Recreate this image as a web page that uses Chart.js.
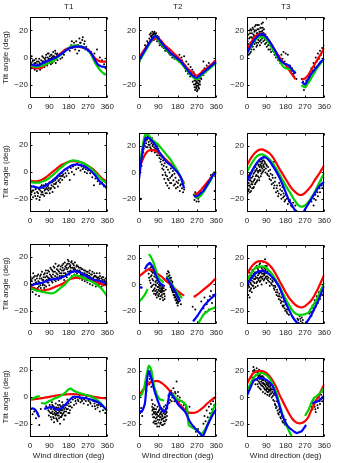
<!DOCTYPE html>
<html>
<head>
<meta charset="utf-8">
<script src="https://cdn.jsdelivr.net/npm/chart.js@4/dist/chart.umd.min.js"></script>
<style>
  body { margin: 0; background: #fff; }
  #wrap { position: relative; width: 337px; height: 463px; overflow: hidden; }
  #wrap canvas { position: absolute; }
</style>
</head>
<body>
<div id="wrap"></div>
<script>
// ---- axes ----
const colTitles = ['T1', 'T2', 'T3'];
const xTicks = [0, 90, 180, 270, 360];
const yTicks = [-20, 0, 20];
const xs = [0,15,30,45,60,75,90,105,120,135,150,165,180,195,210,225,240,255,270,285,300,315,330,345,360];

// ---- observed tilt (flat x,y pairs) ----
const obs11 = [5,-4, 8,1, 10,-6, 12,-3, 15,-8, 18,-5, 20,-2, 22,-9, 25,-6, 27,-4, 30,-7, 32,-10, 35,-5, 38,-8, 40,-3, 42,-6, 45,-4, 47,-9, 50,-7, 52,-2, 55,-5, 58,-3, 60,-6, 62,0, 65,-4, 68,-1, 70,-5, 72,-2, 75,2, 77,-3, 80,-6, 82,0, 85,-2, 87,3, 90,-4, 92,1, 95,-1, 97,-5, 100,2, 102,0, 105,-2, 108,4, 110,-3, 112,1, 115,-1, 118,3, 120,-4, 122,0, 125,2, 128,-2, 135,1, 142,-1, 150,0, 158,2, 185,5, 192,9, 198,7, 205,11, 210,6, 215,12, 220,3, 225,9, 230,14, 233,11, 238,8, 243,13, 248,7, 252,10, 258,6, 262,8, 270,5, 285,4, 300,3, 312,6, 325,0, 335,-2, 345,-5, 352,-8,
  3,-6, 7,-8, 13,-2, 17,-7, 23,-4, 28,-1, 33,-3, 37,-6, 43,-1, 48,-5, 53,-8, 57,1, 63,-3, 67,-7, 73,0, 78,-4, 83,3, 88,-1, 93,-3, 98,2, 103,-4, 107,1, 113,-2, 117,5, 123,-1, 127,3, 195,12, 218,9, 228,5, 236,11, 246,15, 255,12];
const obs12 = [3,-3, 8,0, 15,2, 22,5, 28,9, 32,8, 38,12, 42,11, 48,14, 50,17, 53,13, 55,18, 58,15, 60,16, 62,19, 64,14, 66,17, 68,18, 70,15, 72,19, 74,16, 76,17, 78,14, 80,18, 82,15, 84,12, 86,16, 90,13, 95,11, 100,12, 105,9, 110,10, 115,7, 125,6, 130,5, 140,3, 150,2, 160,1, 170,1, 180,-1, 188,2, 192,-2, 198,0, 205,-4, 210,1, 215,-6, 220,-3, 225,-8, 230,-5, 235,-10, 240,-7, 245,-12, 248,-9, 252,-14, 255,-11, 258,-17, 260,-13, 262,-20, 264,-15, 266,-22, 268,-18, 270,-25, 272,-16, 274,-21, 276,-19, 278,-14, 280,-23, 282,-17, 284,-20, 286,-12, 290,-16, 295,-10, 300,-13, 300,-3, 305,-8, 310,-11, 315,-6, 320,-9, 325,-4, 330,-7, 340,-5, 350,-3, 358,-4,
  56,16, 63,17, 69,13, 73,18, 79,16, 85,14, 92,15, 96,9, 102,10, 108,8, 118,8, 122,5, 135,4, 145,2, 155,0, 165,-1, 175,0, 185,-3, 200,-2, 218,-10, 228,-12, 238,-14, 250,-18, 256,-20, 259,-22, 261,-24, 263,-17, 265,-19, 267,-23, 269,-21, 271,-19, 273,-24, 275,-17, 277,-22, 279,-20, 281,-15, 283,-18, 287,-15, 292,-13, 297,-11, 303,-9];
const obs13 = [2,5, 5,10, 8,2, 10,14, 12,7, 14,18, 16,11, 18,4, 20,20, 22,15, 24,9, 26,22, 28,13, 30,17, 32,6, 34,19, 36,23, 38,12, 40,16, 42,20, 44,8, 46,14, 48,24, 50,18, 52,11, 54,21, 56,15, 58,19, 60,9, 62,22, 64,13, 66,17, 68,25, 70,14, 72,20, 74,26, 76,12, 78,18, 80,16, 84,10, 88,14, 92,8, 96,12, 100,6, 105,9, 112,4, 120,5, 128,2, 135,0, 140,3, 145,-2, 150,1, 155,-4, 160,2, 165,-1, 170,4, 175,-3, 180,3, 185,-5, 190,2, 195,-8, 200,-6, 205,-10, 210,-8, 215,-12, 220,-14, 225,-11, 230,-16, 255,-16, 258,-21, 262,-18, 265,-24, 268,-20, 272,-22, 276,-17, 280,-19, 285,-14, 290,-12, 295,-15, 300,-8, 305,-10, 310,-4, 315,-7, 320,0, 325,-3, 330,3, 335,-1, 340,5, 345,2, 350,7, 355,4, 358,9,
  3,12, 7,17, 9,8, 11,20, 13,3, 15,15, 17,21, 19,10, 21,6, 23,18, 25,14, 27,8, 29,21, 31,12, 33,16, 35,10, 37,20, 39,15, 41,24, 43,11, 45,18, 47,9, 49,21, 51,16, 53,13, 55,24, 57,17, 59,12, 61,19, 63,16, 65,22, 67,11, 69,19, 71,16, 73,22, 75,18, 77,15, 79,21, 82,13, 86,17, 90,11, 94,15, 98,9, 102,12, 108,6, 115,8, 125,4];
const obs21 = [3,-12, 6,-17, 10,-14, 14,-19, 18,-11, 22,-16, 26,-13, 30,-20, 33,-15, 36,-18, 40,-12, 44,-21, 48,-14, 52,-17, 55,-10, 58,-15, 62,-12, 66,-18, 70,-13, 74,-9, 78,-16, 82,-11, 86,-14, 90,-8, 95,-13, 100,-10, 105,-15, 110,-7, 115,-12, 120,-9, 125,-5, 130,-11, 135,-6, 140,-8, 145,-3, 150,-6, 155,-2, 160,-4, 165,-1, 170,-3, 175,1, 180,-1, 185,-6, 190,3, 195,0, 200,4, 205,-2, 210,5, 215,2, 220,6, 225,3, 230,5, 235,1, 240,4, 245,2, 250,3, 255,0, 260,2, 265,-1, 270,1, 280,-1, 290,-4, 298,-10, 305,-5, 315,-7, 325,-9, 335,-8, 345,-11, 355,-12,
  8,-15, 16,-14, 24,-18, 28,-12, 38,-16, 42,-13, 46,-19, 50,-11, 54,-15, 60,-17, 64,-10, 68,-14, 72,-16, 76,-12, 80,-13, 84,-10, 88,-12, 92,-16, 98,-12, 102,-8, 108,-11, 112,-9, 118,-6, 122,-8, 128,-4, 132,-7, 138,-3, 142,-5, 148,-1, 152,-3];
const obs22 = [9,-20, 12,5, 18,12, 22,18, 25,24, 28,20, 30,27, 33,22, 36,29, 38,25, 40,19, 42,27, 45,23, 48,26, 50,21, 53,24, 56,18, 58,22, 60,26, 63,20, 66,17, 68,23, 70,19, 74,15, 78,21, 80,18, 84,13, 88,20, 92,16, 95,11, 98,14, 100,8, 104,12, 108,3, 110,-2, 112,9, 115,5, 118,-5, 120,7, 122,0, 125,-8, 128,4, 130,-3, 132,-10, 135,2, 138,-6, 140,-12, 142,0, 145,-4, 148,3, 150,-8, 155,-2, 158,1, 160,-6, 165,-1, 168,-9, 170,-4, 175,-7, 180,-11, 185,-6, 190,-14, 195,-9, 200,-12, 205,-15, 210,-13, 255,-17, 258,-21, 262,-15, 265,-19, 268,-22, 272,-16, 276,-20, 280,-18, 285,-14, 290,-17, 295,-12, 330,-5, 335,-2, 340,-4, 345,-1, 350,0, 352,-14, 355,-3,
  20,15, 26,26, 32,24, 34,19, 39,28, 44,21, 47,28, 52,19, 55,25, 59,16, 62,24, 65,21, 69,17, 72,22, 76,18, 82,16, 86,15, 90,18, 94,13, 102,10, 106,6, 114,2, 124,-2, 134,-5, 144,-8, 152,-3, 162,-10, 172,-12, 182,-8, 192,-10, 202,-9, 260,-18, 270,-19, 278,-22, 283,-16];
const obs23 = [2,-12, 4,-5, 6,-14, 8,-8, 10,-2, 12,-10, 14,-15, 16,-6, 18,0, 20,-9, 22,-4, 24,-12, 26,2, 28,-7, 30,-1, 32,-11, 34,4, 36,-5, 38,1, 40,-8, 42,6, 44,-2, 46,3, 48,-6, 50,8, 52,0, 54,5, 56,-4, 58,9, 60,2, 62,6, 64,-3, 66,10, 68,4, 70,8, 72,0, 74,11, 76,5, 78,9, 80,2, 84,7, 88,3, 92,5, 96,-2, 100,1, 105,-5, 110,-1, 115,-9, 120,-4, 125,-12, 126,8, 130,-7, 135,-15, 140,-10, 145,-18, 150,-8, 155,-13, 160,-20, 165,-11, 170,-16, 175,-22, 180,-17, 190,-24, 200,-21, 210,-26, 215,-23, 220,-28, 225,-25, 230,-29, 300,-22, 305,-18, 310,-25, 315,-15, 320,-21, 325,-12, 330,-18, 335,-9, 340,-15, 345,-6, 350,-12, 355,-8, 358,-4,
  1,-8, 3,-16, 5,-10, 7,-3, 9,-13, 11,-6, 13,-1, 15,-11, 17,-4, 19,-14, 21,-7, 23,1, 25,-9, 27,-3, 29,-12, 31,3, 33,-6, 35,0, 37,-9, 39,4, 41,-3, 43,2, 45,-7, 47,7, 49,1, 51,-3, 53,6, 55,1, 57,-6, 59,4, 61,8, 63,1, 65,5, 67,-1, 69,7, 71,3, 73,9, 75,1, 77,6, 79,4, 82,8, 86,0, 90,6, 94,-1, 98,4, 103,-3, 108,2, 112,-6, 118,-2, 122,-8, 128,-10, 132,-4, 138,-12, 143,-14, 148,-16, 153,-10, 158,-17, 163,-14, 168,-19, 173,-18, 178,-21, 185,-20, 195,-22, 205,-25, 312,-20, 318,-17, 328,-15, 338,-12, 348,-10];
const obs31 = [3,5, 6,-2, 9,2, 12,-6, 15,8, 18,0, 21,-4, 24,3, 27,-8, 30,1, 33,6, 36,-3, 39,2, 42,-9, 45,4, 48,-1, 51,7, 54,-5, 57,3, 60,0, 63,5, 66,-3, 69,8, 72,2, 75,-2, 78,6, 81,1, 84,10, 87,4, 90,-1, 93,7, 96,3, 99,11, 102,5, 105,1, 108,9, 111,4, 114,12, 117,6, 120,2, 123,8, 126,5, 129,13, 132,3, 135,9, 138,6, 141,11, 144,4, 147,8, 150,14, 153,6, 156,10, 159,3, 162,16, 165,8, 168,12, 171,5, 174,15, 177,9, 180,17, 183,7, 186,13, 189,10, 192,16, 195,6, 198,12, 201,9, 204,14, 207,7, 210,11, 213,5, 216,13, 219,8, 222,10, 225,6, 228,12, 231,4, 234,9, 237,7, 240,11, 243,3, 246,8, 249,5, 252,10, 255,2, 258,7, 261,4, 264,9, 267,1, 270,6, 273,3, 276,8, 279,0, 282,5, 285,2, 288,7, 291,-1, 294,4, 297,1, 300,6, 303,3, 306,-2, 309,5, 312,1, 315,4, 318,-1, 321,3, 324,8, 327,0, 330,2, 333,-2, 336,5, 339,1, 342,-1, 345,3, 350,0, 355,2,
  2,0, 5,3, 8,-4, 11,4, 14,-1, 17,5, 20,-3, 23,6, 26,1, 29,-4, 32,4, 35,0, 38,7, 41,-2, 44,1, 47,6, 50,-3, 53,4, 56,9, 59,-1, 62,3, 65,7, 68,-1, 71,5, 74,10, 77,3, 80,8, 83,5, 86,1, 89,9, 92,4, 95,12, 98,6, 101,2, 104,10, 107,7, 110,13, 113,3, 116,9, 119,15, 122,4, 125,11, 128,7, 131,10, 134,14, 137,5, 140,8, 143,13, 146,6, 149,10, 152,12, 155,15, 158,8, 161,11, 164,13, 167,7, 170,14, 173,11, 176,18, 179,12, 182,15, 185,9, 188,14, 191,12, 194,17, 197,9, 200,15, 203,11, 206,12, 209,16, 212,9, 215,10, 218,14, 221,6, 224,13, 227,9, 230,10, 233,6, 236,12, 239,8, 242,6, 245,11, 248,7, 251,4, 254,8, 257,10, 260,6, 263,3, 266,7, 269,9, 272,4, 275,6, 278,10, 281,3, 284,7, 287,4, 290,9, 293,2, 296,5, 299,8, 302,2, 305,6, 308,3, 311,8, 314,2, 317,5, 320,0, 323,4, 326,6, 329,1, 332,4, 335,0, 338,3, 341,5, 344,-1, 348,2, 352,4, 357,0];
const obs32 = [45,8, 48,12, 50,3, 52,15, 55,6, 57,-2, 58,10, 60,14, 62,4, 64,-5, 65,9, 67,13, 68,0, 70,-7, 71,6, 73,-3, 74,11, 76,2, 78,-8, 79,-1, 80,5, 82,-4, 83,-10, 85,1, 86,-6, 88,3, 90,-2, 92,-9, 93,0, 95,-5, 97,-3, 98,-11, 100,-1, 102,-6, 104,-4, 106,-8, 108,-2, 110,-5, 112,-12, 115,-3, 118,-7, 120,-9, 124,-4, 130,8, 133,4, 135,10, 138,6, 140,1, 142,7, 145,3, 147,-2, 149,5, 151,0, 153,-4, 155,2, 157,-6, 159,-1, 161,-8, 163,-3, 165,-10, 167,-5, 170,-12, 172,-7, 175,-14, 178,-9, 180,-16, 183,-11, 186,-13, 190,-8, 195,-15, 250,-17, 262,-19, 290,-13, 300,-18, 305,-10, 310,-21, 315,-15, 320,-12, 325,-19, 330,-9, 335,-5, 340,-14, 345,-8,
  47,5, 51,11, 54,1, 56,13, 59,7, 61,-1, 63,9, 66,3, 69,-4, 72,8, 75,-5, 77,0, 79,-7, 81,3, 84,-6, 87,-2, 89,-8, 91,-4, 94,-7, 96,-1, 99,-5, 101,-9, 103,-3, 105,-6, 107,-4, 109,-10, 111,-3, 113,-7, 116,-5, 119,-11, 132,6, 136,2, 139,9, 141,4, 144,0, 146,5, 148,-1, 150,3, 152,-3, 154,1, 156,-5, 158,-2, 160,-6, 162,-4, 164,-8, 166,-6, 169,-9, 171,-10, 174,-11, 177,-12, 179,-13, 182,-14, 185,-10];
const obs33 = [2,-5, 4,2, 6,-8, 8,5, 10,-2, 12,-10, 14,3, 16,-4, 18,8, 20,0, 22,-6, 24,6, 26,-1, 28,10, 30,2, 32,-3, 34,7, 36,12, 38,4, 40,-2, 42,9, 44,1, 46,14, 48,5, 50,-1, 52,11, 54,3, 56,8, 58,15, 60,2, 62,10, 64,6, 66,13, 68,0, 70,8, 72,4, 74,11, 76,17, 78,3, 80,7, 82,12, 84,19, 86,5, 88,9, 90,1, 92,14, 95,6, 98,3, 102,8, 106,-1, 110,4, 115,0, 120,2, 125,-3, 130,-1, 135,-6, 140,-4, 145,-9, 150,-7, 155,-12, 160,-10, 165,-16, 170,-13, 175,-18, 180,-15, 185,-21, 190,-19, 195,-23, 235,-26, 240,-29, 245,-24, 250,-28, 255,-25, 260,-27, 290,-22, 295,-19, 300,-24, 305,-16, 310,-20, 315,-12, 320,-17, 325,-9, 330,-14, 335,-6, 340,-11, 345,-4, 350,-8, 355,-2,
  1,1, 3,-3, 5,6, 7,-1, 9,3, 11,9, 13,-5, 15,5, 17,1, 19,-3, 21,7, 23,3, 25,11, 27,5, 29,-1, 31,8, 33,4, 35,1, 37,9, 39,6, 41,13, 43,5, 45,9, 47,2, 49,12, 51,7, 53,4, 55,13, 57,9, 59,5, 61,16, 63,3, 65,9, 67,5, 69,12, 71,10, 73,6, 75,13, 77,8, 79,10, 81,4, 83,8, 85,14, 87,11, 89,6, 91,9, 93,4, 97,10, 100,5, 104,2, 108,7, 112,1, 118,3, 122,-1, 128,-4, 132,-2, 138,-8, 142,-6, 148,-11, 152,-9, 158,-14, 162,-13, 168,-17, 172,-16, 178,-20, 183,-19, 188,-22, 238,-27, 248,-26, 258,-29, 298,-21, 308,-18, 318,-14, 328,-11, 338,-8, 348,-5];
const obs41 = [5,-9, 12,-13, 20,-11, 28,-16, 35,-12, 43,-21, 50,-9, 75,-7, 85,-10, 88,-14, 92,-6, 95,-12, 98,-9, 100,-17, 102,-4, 105,-11, 108,-15, 110,-7, 112,-19, 115,-10, 117,-13, 120,-5, 122,-16, 124,-8, 126,-12, 128,-18, 130,-6, 132,-10, 134,-14, 136,-3, 138,-9, 140,-20, 142,-12, 144,-7, 146,-15, 148,-10, 150,-4, 152,-13, 155,-8, 158,-17, 160,-11, 163,-6, 166,-14, 170,-9, 174,-2, 178,-12, 182,-7, 186,-10, 190,-4, 195,-8, 200,-2, 205,-6, 210,-1, 215,-5, 220,0, 225,-3, 230,1, 235,-4, 240,-2, 245,2, 250,-5, 255,-1, 260,-3, 265,1, 270,-6, 275,-2, 280,-4, 285,0, 290,-7, 295,-3, 300,-5, 305,-9, 310,-4, 315,-8, 320,-6, 325,-11, 330,-7, 340,-10, 350,-12,
  90,-11, 94,-8, 97,-15, 101,-12, 104,-6, 107,-13, 109,-9, 111,-16, 114,-12, 116,-8, 119,-14, 121,-11, 123,-13, 125,-17, 127,-9, 129,-14, 131,-12, 133,-8, 135,-16, 137,-11, 139,-6, 141,-15, 143,-10, 145,-12, 147,-8, 149,-14, 151,-10, 154,-6, 156,-12, 159,-9, 162,-14, 165,-8, 168,-11, 172,-6, 176,-9, 180,-5, 184,-12, 188,-7, 212,-3, 222,-2, 232,-1, 242,-3, 252,-2, 262,0, 272,-3, 282,-5, 292,-2, 302,-7, 312,-6];
const obs42 = [5,-12, 10,-8, 15,-14, 35,5, 40,12, 45,18, 50,14, 55,20, 58,8, 60,-2, 62,-10, 64,-5, 66,-15, 68,-8, 70,-12, 72,-18, 74,-6, 76,-11, 78,-16, 80,-9, 82,-20, 84,-13, 86,-7, 88,-17, 90,-11, 92,-14, 94,-22, 96,-9, 98,-15, 100,-12, 102,-19, 104,-8, 106,-13, 108,-16, 110,-10, 112,-21, 114,-12, 116,-7, 118,-15, 120,-10, 122,-18, 124,-6, 126,-12, 128,-9, 130,-14, 135,-4, 140,2, 145,-2, 150,5, 155,0, 160,7, 165,-3, 170,3, 175,12, 178,-1, 182,4, 186,-5, 190,0, 195,-6, 200,-3, 205,-8, 210,-4, 215,-10, 220,-6, 225,-9, 230,-12, 235,-7, 255,-22, 265,-26, 275,-24, 300,-20, 305,-14, 310,-18, 315,-10, 320,-15, 325,-7, 330,-12, 335,-5, 340,-9, 345,-3, 350,-6, 357,3,
  61,-7, 63,-13, 65,-9, 67,-19, 69,-11, 71,-15, 73,-9, 75,-20, 77,-13, 79,-18, 81,-12, 83,-15, 85,-22, 87,-11, 89,-14, 91,-19, 93,-10, 95,-17, 97,-13, 99,-20, 101,-15, 103,-11, 105,-17, 107,-21, 109,-14, 111,-9, 113,-16, 115,-18, 117,-11, 119,-20, 121,-13, 123,-15, 125,-9, 127,-17, 129,-11, 132,-8, 48,10, 52,16, 57,12, 142,-4, 148,2, 152,-3, 158,3, 162,0, 168,4, 172,-2, 180,1, 188,-3, 198,-7, 208,-6, 218,-8, 228,-11];
const obs43 = [22,12, 26,18, 30,23, 33,15, 36,20, 39,10, 42,17, 45,22, 48,13, 50,19, 52,8, 54,16, 56,21, 58,11, 60,14, 62,18, 64,6, 66,12, 68,16, 70,9, 72,13, 74,4, 76,11, 78,15, 80,7, 82,10, 84,3, 86,12, 88,8, 90,5, 92,10, 94,2, 96,7, 98,11, 100,4, 102,8, 104,1, 106,6, 108,9, 110,3, 112,6, 115,0, 118,4, 122,-2, 126,2, 130,-5, 135,-8, 140,-3, 145,-12, 150,-9, 155,-15, 160,-11, 165,-18, 170,-14, 175,-20, 180,-17, 300,-4, 305,-9, 310,-2, 315,-7, 320,-11, 325,-3, 330,-8, 335,0, 340,-5, 345,2, 350,-3, 355,4, 358,-1,
  24,15, 28,20, 31,13, 34,21, 37,16, 40,19, 43,14, 46,17, 49,10, 51,15, 53,20, 55,12, 57,17, 59,7, 61,16, 63,10, 65,19, 67,9, 69,14, 71,11, 73,16, 75,8, 77,13, 79,10, 81,14, 83,6, 85,9, 87,13, 89,6, 91,11, 93,7, 95,4, 97,9, 99,6, 101,10, 103,5, 105,2, 107,8, 109,5, 111,7, 113,3, 117,6, 120,1, 124,3, 128,-3, 132,-6, 138,-7, 142,-10, 148,-13, 152,-11, 158,-16, 162,-14, 168,-19, 172,-17, 178,-21, 302,-7, 308,-5, 318,-9, 328,-6, 338,-3, 348,-1];

// ---- model curves (y on xs unless own x list) ----
const blue11 = [-5,-5.5,-6,-5.5,-4,-3,-2,-1,0,1.5,3,5,6.5,7.5,8,8,8,7,5.5,3,-1,-5,-6.5,-7,-7];
const red11 = [-6,-7.5,-8,-8,-7,-5,-3,-1.5,0,2,4,6,7,7.5,8,8,7.5,7,6,3,0,-2,-3,-3,-3];
const green11 = [-6,-6.5,-7,-6.5,-6,-5,-4,-3,-1,1,3,5,7,8.5,9,8.5,8,7,5.5,2,-3,-7,-10,-12,-13];

const blue12 = [-2,2,6,10,13.5,16,14,11,8,5.5,3,1,-1,-3,-6,-9,-12,-14,-15,-13,-11,-9,-7,-5,-3];
const red12 = [0,3.5,7,10,12.5,14,14,12,9,7,5,2.5,0.5,-2,-5,-8,-10,-12,-13.5,-12,-9.5,-8,-6,-4,-2];
const green12 = [-3,1,5,9,13,16,13,10,7,4.5,2.5,0,-2,-4,-7,-10,-13,-15,-16,-14,-12,-10,-8,-6,-4];

const blue13 = [3,8,12,15,17,17,15,12,8,4,-1,-3.5,-5,-6,-9,-12,null,-18,-20,-16,-12,-9,-6,-3,-1];
const red13 = [6,10,14,16.5,17.5,17,15,12,8,4,0.5,-3,-5.5,-9,-12.5,-16,null,-16.5,-15.5,-13,-9,-5,-1,3,7];
const green13 = [3,7,11,14,15,15,13.5,10,6,2,-2,-6,-8,-8.5,-9,-11,null,-21,-22,-19,-15,-11,-7,-4,-1];

const blue21 = [-10.5,-11,-11.5,-12,-11.5,-10,-8.5,-6.5,-4.5,-2,0,2,3.5,5,5.5,5.5,5,4,2.5,0.5,-2,-5,-8,-10,-12];
const red21 = [-6.5,-7,-7,-6.5,-5.5,-4,-2,0,2,4,5.5,6.5,7.5,8,8,7.5,7,6,4.5,3,1,-1.5,-4,-6,-7.5];
const green21 = [-7.5,-8,-8,-8,-7,-6,-4.5,-2.5,-0.5,2,4,6,7.5,8.5,8.5,8,7,6,4.5,2.5,0,-2.5,-5,-7,-9];

const blue22 = [-5,14,26,26,24,21,16.5,13,9.5,7,5,2.5,0,-4,-12,null,null,-18,-18,-16,-14,-10,-6,-2,0];
const red22 = [2,9,14,16.5,17,16.5,15,13,10.5,8,6,3,0,-4,-8,null,null,-17,-16,-14,-11,-8,-5,-2,0];
const green22 = [-2,18,29,28,25,23,21,18,15,12,9,5,1,-4,-9,null,null,-17,-19,-18,-15,-11,-7,-2,1];

const blue23 = [-7,-2,3,7,10,11.5,11,8.5,5,1,-3.5,-9,-15,-21,-25,-29,-32,-33,-28,-24,-20,-16,-12,-9,-7];
const red23 = [5.5,10,13.5,16,17.3,17.3,16,14.5,11.5,7.5,3,-1,-5,-9,-12.5,-15,-16.8,-17,-15.5,-13,-10,-6,-2.5,1.5,5.5];
const green23 = [0.5,5,9,12,13.5,13.5,12,10,7,3,-1,-5.5,-10,-14,-18,-22,-25,-26,-25,-22.5,-19,-15,-10,-5,-0.5];

const blue31 = [-1,-0.5,0,0.5,1,2,3,3.5,4,4,5,6,7.5,9,9.5,9,8,6.5,5,4,3,2.5,2,1,0];
const red31 = [-2,-3,-4,-5,-5,-4.5,-4,-3,-2,-1,0,1.5,3,4,4.5,4.5,4.5,4,3.5,3,2,1,0,-0.5,-1];
const green31 = [-3,-4,-5,-5.5,-6,-6.5,-7,-7,-6,-4,-2,0,3,5.5,6.5,6,5,4,3,2,0.5,-1,-3,-6,-9.5];

const blue32X = [0,8,16,22,27,38,50,65,80,95,110,120,124,127,147,170,192,220,252,275,305,335,360];
const blue32 = [-1.5,-2.5,-2,null,11.5,14.5,16.4,12.7,6.5,1.6,-0.5,-1.5,null,5.3,0.4,-5.8,-13,null,-28,-23,-15.7,-10.7,-7];
const red32 = [6,8,10,11.5,11,9.5,7.5,6,3.5,1.5,-0.5,-3,-5,-7,-8.5,null,null,-9.5,-8,-6,-4,-2,0,2.5,5];
const green32X = [0,10,20,30,40,43,46,55,65,75,87,100,115,122,130,140,150,160,170,185,200,235,270,285,300,315,330,345,360];
const green32 = [-13,-11.5,-9.5,-7,-3.5,null,23,21,17.6,13,6.5,3.5,1.5,null,6,3,0.5,-2,-4.5,-7.5,-10.5,null,-31,-27,-23,-21,-19,-18,-17];

const blue33 = [-1,3.5,7,9,10,10,9,7.5,5,2,-2,-8,-14,-19,-24,-27.5,-30,-32,-30.5,-27,-23,-18,-13,-7,-1];
const red33 = [7.8,12,15,17,17.6,17.5,16.4,14.5,11.5,7.5,3,-1.5,-6,-10,-13,-15.5,-17,-17.5,-16.5,-14.5,-12,-8,-3.5,2,7.5];
const green33 = [3,7,11,13,13.5,13.5,12.5,10,7,3,-1,-6,-11,-15.5,-19.5,-22,-23,-23,-22.5,-21.5,-18,-14,-9.5,-4,1.5];

const blue41X = [0,13,28,43,50,66,85,103,118,133,150,163,175,186,201,220,238,260,283,300,313,330,343,352,360];
const blue41 = [-9.3,-8.6,-10.3,-15.2,null,-9,-8,-7.5,-9,-9.5,-8,-6,-4,-2,0,0,-0.5,-1,-2,-3,-3.7,-5.5,-7.3,-9,-10];
const red41 = [-2,-1.8,-1.5,-1.2,-0.8,-0.4,0,0.5,1,1.3,1.6,1.8,2,2,2,1.9,1.7,1.4,1,0.6,0,-0.4,-0.8,-1,-1.2];
const green41X = [0,15,30,46,48,51,70,90,110,133,150,163,178,190,200,220,238,260,283,300,313,325,336,348,360];
const green41 = [-2,-1,0,0.5,null,-4.4,-5,-3,-1.5,0,1.5,3,5.5,6.2,5,3.5,2.5,1.5,0.5,-1,-2.4,-4,-6,-8.5,-11];

const blue42X = [0,12,27,37,45,57,72,87,102,117,132,144,162,185,215,237,260,282,297,320,342,360];
const blue42 = [-9.8,-11,-5,12.3,20,14.8,5,-2.4,-8.6,-11,-6,3.7,0,-6,-11,-18.4,-23.3,-27,-29.5,-20.9,-13.5,-9];
const red42 = [1.3,5,8,10.5,12,12.3,12.3,11,9,6.5,3.5,0.5,-3,-6.5,-9,-11,-11.7,-11.7,-11,-9.5,-7.5,-5,-3,-1,0.5];
const green42X = [0,15,25,35,46,57,72,95,117,125,132,155,177,207,222,232,250,267,290,305,320,335,348,360];
const green42 = [0,3,8,17,24,21,7.4,-1.2,-2.4,null,1.3,2.5,-1.2,-3.7,-7.3,-21,-23,-24.5,-27.5,-25,-20,-14,-8,-4];

const blue43X = [0,15,30,45,60,75,89,104,119,130,141,152,164,175,186,197,208,220,231,242,253,264,275,293,305,315,325,335,348,360];
const blue43 = [1.3,7,12.3,14,14.8,14.3,13.5,11.5,8.6,4,-1.2,-7,-13.5,-17.5,-20.9,-23,-24.5,-26,-27,-26.5,-25.8,-23.5,-20.9,null,-4.5,-3.7,-3.2,-2.4,-0.5,1.3];
const red43 = [10.3,15,18.5,19.8,20.2,19.8,18.5,16,12.5,8,2.5,-2.5,-7.5,-12,-16,-18.5,-19.6,-19.4,-18,-15,-9.5,-4.5,0,5,10];
const green43X = [0,15,30,48,67,82,97,112,126,140,149,160,171,182,193,208,218,235,270,285,300,312,325,335,348,360];
const green43 = [5,10,14.8,17.5,18.5,17.8,16,12.5,7.4,2,-3.7,-10,-16,-20.5,-24.5,-29.5,-32,null,-14,-10,-4,-0.5,1,2.5,5,7.4];

const panels = [
  { obs: obs11, blue: [xs, blue11], green: [xs, green11], red: [xs, red11] },
  { obs: obs12, blue: [xs, blue12], green: [xs, green12], red: [xs, red12] },
  { obs: obs13, blue: [xs, blue13], green: [xs, green13], red: [xs, red13] },
  { obs: obs21, blue: [xs, blue21], green: [xs, green21], red: [xs, red21] },
  { obs: obs22, blue: [xs, blue22], green: [xs, green22], red: [xs, red22] },
  { obs: obs23, blue: [xs, blue23], green: [xs, green23], red: [xs, red23] },
  { obs: obs31, blue: [xs, blue31], green: [xs, green31], red: [xs, red31] },
  { obs: obs32, blue: [blue32X, blue32], green: [green32X, green32], red: [xs, red32] },
  { obs: obs33, blue: [xs, blue33], green: [xs, green33], red: [xs, red33] },
  { obs: obs41, blue: [blue41X, blue41], green: [green41X, green41], red: [xs, red41] },
  { obs: obs42, blue: [blue42X, blue42], green: [green42X, green42], red: [xs, red42] },
  { obs: obs43, blue: [blue43X, blue43], green: [green43X, green43], red: [xs, red43] }
];

// ---- layout ----
const plotLeft = [30, 139, 247];
const plotTop = [17, 131, 243, 356];
const plotW = 80, plotH = 81, axisW = 30, padR = 8;
const FONT = { family: '"Liberation Sans", Arial, sans-serif', size: 8 };
const TXT = '#222';

Chart.defaults.font.family = FONT.family;
Chart.defaults.font.size = 8;
Chart.defaults.color = TXT;

function pairs(flat) {
  const out = [];
  for (let k = 0; k + 1 < flat.length; k += 2) out.push({ x: flat[k], y: flat[k + 1] });
  return out;
}

function curve(spec, color) {
  const [xArr, yArr] = spec;
  return {
    data: xArr.map((x, k) => ({ x: x, y: yArr[k] })),
    showLine: true,
    borderColor: color,
    backgroundColor: color,
    borderWidth: 2.2,
    pointRadius: 0,
    tension: 0.2,
    spanGaps: false
  };
}

function minus(v) {
  return v < 0 ? '\u2212' + Math.abs(v) : String(v);
}

// box with inward ticks, matlab style
const boxPlugin = {
  id: 'box',
  afterDatasetsDraw(chart) {
    const { ctx, chartArea: a, scales: { x, y } } = chart;
    const L = Math.round(a.left) + 0.5, R = Math.round(a.right) - 0.5;
    const T = Math.round(a.top) + 0.5, B = Math.round(a.bottom) - 0.5;
    ctx.save();
    ctx.strokeStyle = '#000';
    ctx.lineWidth = 1;
    ctx.strokeRect(L, T, R - L, B - T);
    ctx.beginPath();
    xTicks.forEach(v => {
      const px = Math.round(x.getPixelForValue(v)) + 0.5;
      ctx.moveTo(px, B); ctx.lineTo(px, B - 2);
      ctx.moveTo(px, T); ctx.lineTo(px, T + 2);
    });
    yTicks.forEach(v => {
      const py = Math.round(y.getPixelForValue(v)) + 0.5;
      ctx.moveTo(L, py); ctx.lineTo(L + 2, py);
      ctx.moveTo(R, py); ctx.lineTo(R - 2, py);
    });
    ctx.stroke();
    ctx.restore();
  }
};

const wrap = document.getElementById('wrap');

panels.forEach((p, i) => {
  const r = Math.floor(i / 3), c = i % 3;
  const topBox = r === 0 ? 17 : 6;
  const bottomBox = r === 3 ? 26 : 14;
  const canvas = document.createElement('canvas');
  canvas.width = axisW + plotW + padR;
  canvas.height = topBox + plotH + bottomBox;
  canvas.style.width = canvas.width + 'px';
  canvas.style.height = canvas.height + 'px';
  canvas.style.left = (plotLeft[c] - axisW) + 'px';
  canvas.style.top = (plotTop[r] - topBox) + 'px';
  wrap.appendChild(canvas);

  new Chart(canvas, {
    type: 'scatter',
    data: {
      datasets: [
        curve(p.blue, '#0000ff'),
        curve(p.green, '#00d200'),
        curve(p.red, '#ff0000'),
        {
          data: pairs(p.obs),
          pointRadius: 1,
          pointBorderWidth: 0,
          pointBackgroundColor: '#000',
          showLine: false
        }
      ]
    },
    options: {
      responsive: false,
      animation: false,
      devicePixelRatio: 1,
      events: [],
      layout: { padding: { top: r === 0 ? 0 : topBox, right: padR, left: 0, bottom: 0 } },
      plugins: {
        legend: { display: false },
        tooltip: { enabled: false },
        title: {
          display: r === 0,
          text: colTitles[c],
          fullSize: false,
          color: TXT,
          font: { family: FONT.family, size: 8, weight: 'normal', lineHeight: 1 },
          padding: { top: 3, bottom: 6 }
        }
      },
      scales: {
        x: {
          type: 'linear',
          min: 0,
          max: 360,
          grid: { display: false, drawTicks: false },
          border: { display: false },
          afterBuildTicks: s => { s.ticks = xTicks.map(v => ({ value: v })); },
          afterFit: s => { s.height = bottomBox; },
          ticks: { padding: 4, maxRotation: 0, autoSkip: false, color: TXT, font: FONT },
          title: {
            display: r === 3,
            text: 'Wind direction (deg)',
            color: TXT,
            font: FONT,
            padding: { top: 0, bottom: 2 }
          }
        },
        y: {
          type: 'linear',
          min: -30,
          max: 30,
          grid: { display: false, drawTicks: false },
          border: { display: false },
          afterBuildTicks: s => { s.ticks = yTicks.map(v => ({ value: v })); },
          afterFit: s => { s.width = axisW; },
          ticks: { padding: c === 0 ? 2 : 3, color: TXT, font: FONT, callback: v => minus(v) },
          title: {
            display: c === 0,
            text: 'Tilt angle (deg)',
            color: TXT,
            font: FONT,
            padding: { top: 1, bottom: 0 }
          }
        }
      }
    },
    plugins: [boxPlugin]
  });
});
</script>
</body>
</html>
